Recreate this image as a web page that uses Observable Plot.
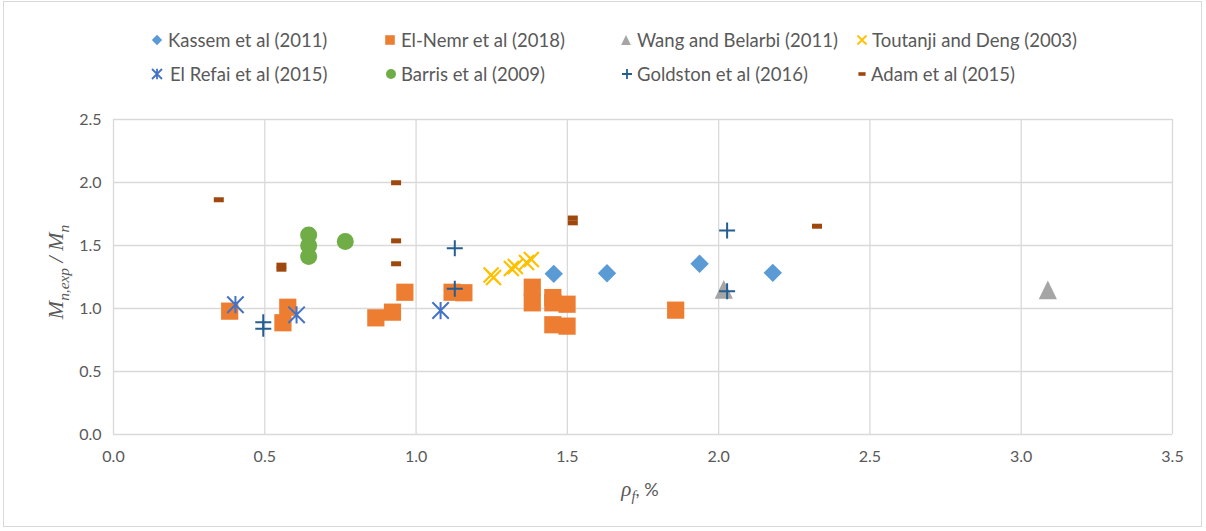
<!DOCTYPE html>
<html>
<head>
<meta charset="utf-8">
<script src="https://cdn.jsdelivr.net/npm/d3@7"></script>
<script src="https://cdn.jsdelivr.net/npm/@observablehq/plot@0.6"></script>
<style>
  html, body { margin: 0; padding: 0; background: #fff; }
  #wrap { position: relative; width: 1206px; height: 531px; overflow: hidden; font-family: Lato, "Liberation Sans", sans-serif; color: #595959; }
  #frame { position: absolute; left: 3px; top: 1px; width: 1199px; height: 526px; border: 1px solid #d9d9d9; box-sizing: border-box; pointer-events: none; }
  .leg { position: absolute; height: 20px; display: flex; align-items: center; font-size: 18.5px; white-space: nowrap; }
  .ytitle { position: absolute; left: 58px; top: 272px; transform: translate(-50%, -50%) rotate(-90deg); font-family: "Liberation Serif", "DejaVu Serif", serif; font-style: italic; font-size: 22px; white-space: nowrap; }
  .xtitle { position: absolute; left: 640px; top: 491px; transform: translate(-50%, -50%); font-size: 18px; white-space: nowrap; }
  .xtitle i { font-family: "Liberation Serif", "DejaVu Serif", serif; font-size: 21px; }
  sub { font-size: 0.7em; }
</style>
</head>
<body>
<div id="wrap"><div id="frame"></div></div>
<script>
// ---- data ----
const seriesNames = ["Kassem et al (2011)", "El-Nemr et al (2018)", "Wang and Belarbi (2011)", "Toutanji and Deng (2003)",
                     "El Refai et al (2015)", "Barris et al (2009)", "Goldston et al (2016)", "Adam et al (2015)"];

const kassemX = [1.455, 1.631, 1.937, 2.179];
const kassemY = [1.275, 1.280, 1.355, 1.283];

const elNemrX = [0.384, 0.560, 0.576, 0.867, 0.922, 0.963, 1.119, 1.158, 1.384, 1.384, 1.452, 1.452, 1.499, 1.452, 1.499, 1.858];
const elNemrY = [0.979, 0.887, 1.010, 0.926, 0.971, 1.129, 1.129, 1.125, 1.169, 1.045, 1.087, 1.045, 1.034, 0.871, 0.860, 0.987];

const wangX = [2.017, 3.088];
const wangY = [1.151, 1.148];

const toutanjiX = [1.248, 1.256, 1.315, 1.328, 1.365, 1.381];
const toutanjiY = [1.266, 1.246, 1.317, 1.333, 1.365, 1.389];

const elRefaiX = [0.403, 0.605, 1.081];
const elRefaiY = [1.030, 0.950, 0.984];

const barrisX = [0.645, 0.645, 0.645, 0.766];
const barrisY = [1.583, 1.500, 1.413, 1.532];

const goldstonX = [0.495, 0.495, 1.128, 1.128, 2.028, 2.028];
const goldstonY = [0.890, 0.840, 1.479, 1.156, 1.619, 1.137];

const adamX = [0.348, 0.555, 0.555, 0.934, 0.934, 0.934, 1.518, 1.518, 2.325];
const adamY = [1.863, 1.344, 1.312, 1.998, 1.537, 1.355, 1.718, 1.680, 1.653];

const xTicks = [0, 0.5, 1.0, 1.5, 2.0, 2.5, 3.0, 3.5];
const yTicks = [0, 0.5, 1.0, 1.5, 2.0, 2.5];

const colors = ["#5B9BD5", "#ED7D31", "#A5A5A5", "#FFC000", "#4472C4", "#70AD47", "#255E91", "#9E480E"];

// ---- custom symbols (r = half extent in px) ----
const R = s => Math.sqrt(s / Math.PI);
const symDiamond = {draw(c, s) { const r = R(s); c.moveTo(0, -r); c.lineTo(r, 0); c.lineTo(0, r); c.lineTo(-r, 0); c.closePath(); }};
const symSquare = {draw(c, s) { const r = R(s); c.rect(-r, -r, 2 * r, 2 * r); }};
const symTriangle = {draw(c, s) { const r = R(s); c.moveTo(0, -r); c.lineTo(0.97 * r, r); c.lineTo(-0.97 * r, r); c.closePath(); }};
const symTimes = {draw(c, s) { const r = R(s); c.moveTo(-r, -r); c.lineTo(r, r); c.moveTo(-r, r); c.lineTo(r, -r); }};
const symStar = {draw(c, s) { const r = R(s); c.moveTo(-r, -r); c.lineTo(r, r); c.moveTo(-r, r); c.lineTo(r, -r); c.moveTo(0, -r * 1.05); c.lineTo(0, r * 1.05); }};
const symCircle = {draw(c, s) { const r = R(s); c.moveTo(r, 0); c.arc(0, 0, r, 0, 2 * Math.PI); }};
const symPlus = {draw(c, s) { const r = R(s); c.moveTo(-r, 0); c.lineTo(r, 0); c.moveTo(0, -r); c.lineTo(0, r); }};
const symDash = {draw(c, s) { const r = R(s); c.rect(-r, -r * 0.5, 2 * r, r); }};

const toRows = (xs, ys) => xs.map((x, i) => ({x, y: ys[i]}));

const fillDot = (xs, ys, sym, r, color) =>
  Plot.dot(toRows(xs, ys), {x: "x", y: "y", symbol: sym, r, fill: color, stroke: "none"});
const strokeDot = (xs, ys, sym, r, color, w) =>
  Plot.dot(toRows(xs, ys), {x: "x", y: "y", symbol: sym, r, fill: "none", stroke: color, strokeWidth: w});

const chart = Plot.plot({
  width: 1206,
  height: 531,
  marginLeft: 113,
  marginRight: 34,
  marginTop: 119,
  marginBottom: 97,
  style: {fontFamily: "Lato, 'Liberation Sans', sans-serif", fontSize: "16px", color: "#595959", background: "transparent", overflow: "visible"},
  x: {domain: [0, 3.5], label: null},
  y: {domain: [0, 2.5], label: null},
  marks: [
    Plot.gridX(xTicks, {stroke: "#d9d9d9", strokeOpacity: 1, strokeWidth: 1.3}),
    Plot.gridY(yTicks, {stroke: "#d9d9d9", strokeOpacity: 1, strokeWidth: 1.3}),
    Plot.axisX(xTicks, {tickSize: 0, tickPadding: 16, tickFormat: d => d.toFixed(1), label: null, fill: "#595959"}),
    Plot.axisY(yTicks, {tickSize: 0, tickPadding: 12, tickFormat: d => d.toFixed(1), label: null, fill: "#595959"}),
    fillDot(kassemX, kassemY, symDiamond, 9.2, colors[0]),
    fillDot(elNemrX, elNemrY, symSquare, 8.6, colors[1]),
    fillDot(wangX, wangY, symTriangle, 9.4, colors[2]),
    strokeDot(toutanjiX, toutanjiY, symTimes, 7.5, colors[3], 2.2),
    strokeDot(elRefaiX, elRefaiY, symStar, 8.2, colors[4], 2),
    fillDot(barrisX, barrisY, symCircle, 8.5, colors[5]),
    strokeDot(goldstonX, goldstonY, symPlus, 8, colors[6], 2),
    fillDot(adamX, adamY, symDash, 5, colors[7])
  ]
});

const wrap = document.getElementById("wrap");
chart.style.position = "absolute";
chart.style.left = "0";
chart.style.top = "0";
wrap.insertBefore(chart, wrap.firstChild);

// ---- legend (HTML) ----
const legendPos = [
  [157, 168, 40], [390, 401, 40], [626, 637, 40], [862, 872, 40],
  [157, 170, 74], [391, 401, 74], [627, 637, 74], [862, 871, 74]
];
const legendSyms = [symDiamond, symSquare, symTriangle, symTimes, symStar, symCircle, symPlus, symDash];
const legendR = [5.2, 4.8, 5, 4.5, 5, 5, 5, 3.6];
const legendFilled = [true, true, true, false, false, true, false, true];
seriesNames.forEach((name, i) => {
  const [mx, tx, cy] = legendPos[i];
  const item = document.createElement("div");
  item.className = "leg";
  item.style.left = tx + "px";
  item.style.top = (cy - 10) + "px";
  item.textContent = name;
  wrap.appendChild(item);
  const svg = d3.create("svg").attr("width", 16).attr("height", 16)
    .style("position", "absolute").style("left", (mx - 8) + "px").style("top", (cy - 8) + "px");
  const p = d3.path();
  const r = legendR[i];
  legendSyms[i].draw(p, Math.PI * r * r);
  svg.append("path").attr("transform", "translate(8,8)").attr("d", p.toString())
    .attr("fill", legendFilled[i] ? colors[i] : "none")
    .attr("stroke", legendFilled[i] ? "none" : colors[i])
    .attr("stroke-width", 1.8);
  wrap.appendChild(svg.node());
});

// ---- axis titles ----
const yt = document.createElement("div");
yt.className = "ytitle";
yt.innerHTML = "M<sub>n,exp</sub> / M<sub>n</sub>";
wrap.appendChild(yt);
const xt = document.createElement("div");
xt.className = "xtitle";
xt.innerHTML = "<i>ρ<sub>f</sub></i>, %";
wrap.appendChild(xt);
</script>
</body>
</html>
